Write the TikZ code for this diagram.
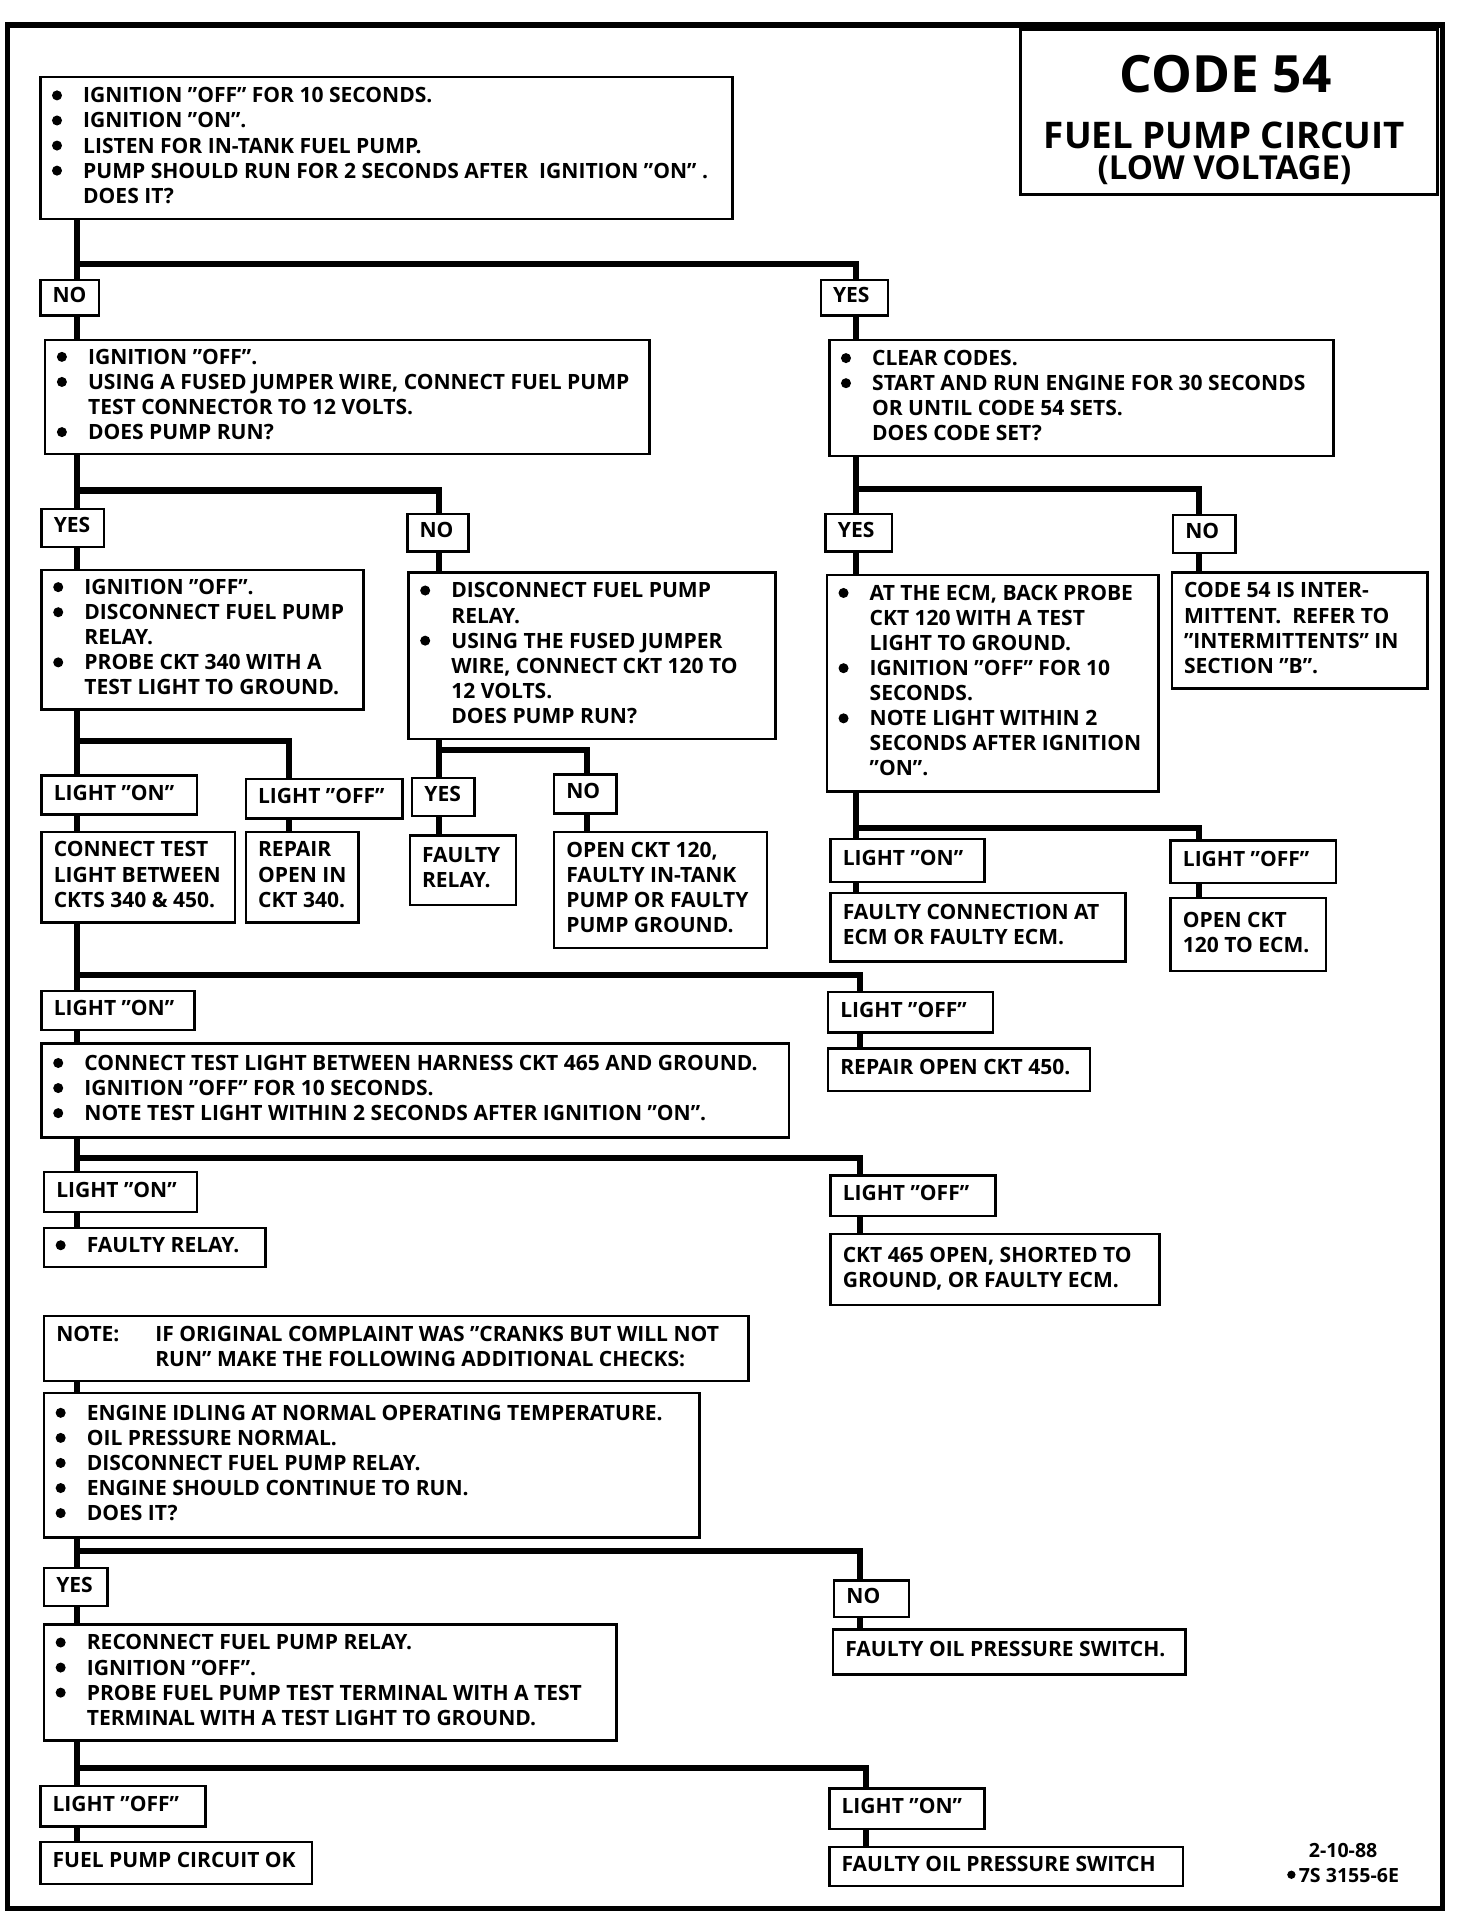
\documentclass[tikz,border=0pt]{standalone}
\usepackage{fontspec}
\setmainfont{Open Sans}
\newcommand\dotmark[1]{\tikz[baseline=0pt]\fill (#1,6.1pt) circle (#1);}
\newcommand\bul{\makebox[25pt][l]{\hspace*{-0.5pt}\dotmark{4.1pt}}}
\newcommand\indt{\hspace*{25pt}}
\def\mbpad{10}
\newcommand\mkbox[6]{%
  \pgfmathsetmacro\mbW{#4-#2}%
  \pgfmathsetmacro\mbH{#5-#3}%
  \pgfmathsetmacro\mbT{#4-#2-2*\mbpad}%
  \node[mybox, minimum width=\mbW pt, minimum height=\mbH pt] (#1) at (#2,-#3)
    {\makebox[\mbT pt][l]{\begin{tabular}{@{}l@{}}#6\end{tabular}}};}
\begin{document}
\begin{tikzpicture}[x=1pt,y=1pt,
  mybox/.style={draw, line width=2pt, anchor=north west, inner xsep=\mbpad pt, inner ysep=0pt,
    font=\fontsize{17.2}{20.5}\selectfont\bfseries},
  cnx/.style={line width=5pt}]
\useasboundingbox (0,0) rectangle (1203,-1568);
\node[draw, line width=4.5pt, anchor=north west, minimum width=1173pt, minimum height=1540pt, inner sep=0pt] (frame) at (4,-18) {};
% title
\node[draw, line width=2.2pt, anchor=north west, minimum width=341pt, minimum height=135pt, inner sep=0pt] (title) at (833,-23) {};
\node[font=\fontsize{42}{42}\selectfont\bfseries] (t1) at (1002,-61) {CODE 54};
\node[font=\fontsize{30}{30}\selectfont\bfseries] (t2) at (1001,-111) {FUEL PUMP CIRCUIT};
\node[font=\fontsize{27}{27}\selectfont\bfseries] (t3) at (1001,-139) {(LOW VOLTAGE)};
% boxes
\mkbox{b1}{32}{62}{598}{178}{\bul IGNITION "OFF" FOR 10 SECONDS.\\ \bul IGNITION "ON".\\ \bul LISTEN FOR IN-TANK FUEL PUMP.\\ \bul PUMP SHOULD RUN FOR 2 SECONDS AFTER \ IGNITION "ON" .\\ \indt DOES IT?}
\mkbox{no1}{32}{228}{80}{257}{NO}
\mkbox{yes1}{670}{228}{725}{257}{YES}
\mkbox{b2}{36}{277}{530}{370}{\bul IGNITION "OFF".\\ \bul USING A FUSED JUMPER WIRE, CONNECT FUEL PUMP\\ \indt TEST CONNECTOR TO 12 VOLTS.\\ \bul DOES PUMP RUN?}
\mkbox{b3}{677}{277}{1089}{372}{\bul CLEAR CODES.\\ \bul START AND RUN ENGINE FOR 30 SECONDS\\ \indt OR UNTIL CODE 54 SETS.\\ \indt DOES CODE SET?}
\mkbox{yes2}{33}{415}{84}{446}{YES}
\mkbox{no2}{332}{419}{382}{450}{NO}
\mkbox{yes3}{674}{419}{728}{450}{YES}
\mkbox{no3}{958}{420}{1009}{451}{NO}
\mkbox{b4}{33}{465}{296}{579}{\bul IGNITION "OFF".\\ \bul DISCONNECT FUEL PUMP\\ \indt RELAY.\\ \bul PROBE CKT 340 WITH A\\ \indt TEST LIGHT TO GROUND.}
\mkbox{b5}{333}{467}{633}{603}{\bul DISCONNECT FUEL PUMP\\ \indt RELAY.\\ \bul USING THE FUSED JUMPER\\ \indt WIRE, CONNECT CKT 120 TO\\ \indt 12 VOLTS.\\ \indt DOES PUMP RUN?}
\mkbox{b6}{675}{469}{946}{646}{\bul AT THE ECM, BACK PROBE\\ \indt CKT 120 WITH A TEST\\ \indt LIGHT TO GROUND.\\ \bul IGNITION "OFF" FOR 10\\ \indt SECONDS.\\ \bul NOTE LIGHT WITHIN 2\\ \indt SECONDS AFTER IGNITION\\ \indt "ON".}
\mkbox{b7}{957}{467}{1166}{562}{CODE 54 IS INTER-\\ MITTENT. \ REFER TO\\ "INTERMITTENTS" IN\\ SECTION "B".}
\mkbox{lon1}{33}{633}{160}{665}{LIGHT "ON"}
\mkbox{loff1}{200}{636}{328}{668}{LIGHT "OFF"}
\mkbox{yes4}{336}{635}{387}{666}{YES}
\mkbox{no4}{452}{632}{503}{664}{NO}
\mkbox{r1}{33}{679}{191}{753}{CONNECT TEST\\ LIGHT BETWEEN\\ CKTS 340 \& 450.}
\mkbox{r2}{200}{679}{292}{753}{REPAIR\\ OPEN IN\\ CKT 340.}
\mkbox{r3}{334}{682}{421}{739}{FAULTY\\ RELAY.}
\mkbox{r4}{452}{679}{626}{774}{OPEN CKT 120,\\ FAULTY IN-TANK\\ PUMP OR FAULTY\\ PUMP GROUND.}
\mkbox{lon2}{678}{685}{804}{720}{LIGHT "ON"}
\mkbox{loff2}{956}{686}{1091}{721}{LIGHT "OFF"}
\mkbox{r5}{678}{729}{919}{785}{FAULTY CONNECTION AT\\ ECM OR FAULTY ECM.}
\mkbox{r6}{956}{733}{1083}{793}{OPEN CKT\\ 120 TO ECM.}
\mkbox{lon3}{33}{809}{158}{841}{LIGHT "ON"}
\mkbox{loff3}{676}{810}{811}{843}{LIGHT "OFF"}
\mkbox{b8}{33}{852}{644}{929}{\bul CONNECT TEST LIGHT BETWEEN HARNESS CKT 465 AND GROUND.\\ \bul IGNITION "OFF" FOR 10 SECONDS.\\ \bul NOTE TEST LIGHT WITHIN 2 SECONDS AFTER IGNITION "ON".}
\mkbox{r7}{676}{856}{890}{891}{REPAIR OPEN CKT 450.}
\mkbox{lon4}{35}{957}{160}{990}{LIGHT "ON"}
\mkbox{loff4}{678}{960}{813}{993}{LIGHT "OFF"}
\mkbox{fr}{35}{1003}{216}{1035}{\bul FAULTY RELAY.}
\mkbox{r8}{678}{1008}{947}{1066}{CKT 465 OPEN, SHORTED TO\\ GROUND, OR FAULTY ECM.}
\mkbox{note}{35}{1075}{611}{1128}{\makebox[81pt][l]{NOTE:}IF ORIGINAL COMPLAINT WAS "CRANKS BUT WILL NOT\\ \hspace*{81pt}RUN" MAKE THE FOLLOWING ADDITIONAL CHECKS:}
\mkbox{b9}{35}{1138}{571}{1256}{\bul ENGINE IDLING AT NORMAL OPERATING TEMPERATURE.\\ \bul OIL PRESSURE NORMAL.\\ \bul DISCONNECT FUEL PUMP RELAY.\\ \bul ENGINE SHOULD CONTINUE TO RUN.\\ \bul DOES IT?}
\mkbox{yes5}{35}{1281}{87}{1312}{YES}
\mkbox{no5}{681}{1291}{742}{1321}{NO}
\mkbox{b10}{35}{1327}{503}{1422}{\bul RECONNECT FUEL PUMP RELAY.\\ \bul IGNITION "OFF".\\ \bul PROBE FUEL PUMP TEST TERMINAL WITH A TEST\\ \indt TERMINAL WITH A TEST LIGHT TO GROUND.}
\mkbox{r10}{680}{1331}{968}{1368}{FAULTY OIL PRESSURE SWITCH.}
\mkbox{loff5}{32}{1459}{167}{1492}{LIGHT "OFF"}
\mkbox{lon5}{677}{1461}{804}{1494}{LIGHT "ON"}
\mkbox{r9}{32}{1505}{254}{1539}{FUEL PUMP CIRCUIT OK}
\mkbox{r11}{677}{1509}{966}{1541}{FAULTY OIL PRESSURE SWITCH}
\node[font=\fontsize{16}{20}\selectfont\bfseries, align=center] (foot) at (1098,-1523) {2-10-88\\\dotmark{3.4pt}\,7S 3155-6E};
% columns and levels
\coordinate (cL) at (63,0);
\coordinate (cA) at (236,0);
\coordinate (cB) at (359,0);
\coordinate (cC) at (480,0);
\coordinate (cD) at (700,0);
\coordinate (cE) at (980,0);
\coordinate (cF) at (703,0);
\coordinate (cG) at (708,0);
\coordinate (h1) at (0,-216);
\coordinate (h2) at (0,-401);
\coordinate (h3) at (0,-400);
\coordinate (h4) at (0,-606);
\coordinate (h5) at (0,-613);
\coordinate (h6) at (0,-677);
\coordinate (h7) at (0,-797);
\coordinate (h8) at (0,-947);
\coordinate (h9) at (0,-1268);
\coordinate (h10) at (0,-1445);
% connectors
\draw[cnx] (b1.south -| cL) -- (no1.north -| cL);
\draw[cnx] (cL |- h1) -| (yes1.north -| cD);
\draw[cnx] (no1.south -| cL) -- (b2.north -| cL);
\draw[cnx] (yes1.south -| cD) -- (b3.north -| cD);
\draw[cnx] (b2.south -| cL) -- (yes2.north -| cL);
\draw[cnx] (cL |- h2) -| (no2.north -| cB);
\draw[cnx] (yes2.south -| cL) -- (b4.north -| cL);
\draw[cnx] (no2.south -| cB) -- (b5.north -| cB);
\draw[cnx] (b3.south -| cD) -- (yes3.north -| cD);
\draw[cnx] (cD |- h3) -| (no3.north -| cE);
\draw[cnx] (yes3.south -| cD) -- (b6.north -| cD);
\draw[cnx] (no3.south -| cE) -- (b7.north -| cE);
\draw[cnx] (b4.south -| cL) -- (lon1.north -| cL);
\draw[cnx] (cL |- h4) -| (loff1.north -| cA);
\draw[cnx] (lon1.south -| cL) -- (r1.north -| cL);
\draw[cnx] (loff1.south -| cA) -- (r2.north -| cA);
\draw[cnx] (b5.south -| cB) -- (yes4.north -| cB);
\draw[cnx] (cB |- h5) -| (no4.north -| cC);
\draw[cnx] (yes4.south -| cB) -- (r3.north -| cB);
\draw[cnx] (no4.south -| cC) -- (r4.north -| cC);
\draw[cnx] (b6.south -| cD) -- (lon2.north -| cD);
\draw[cnx] (cD |- h6) -| (loff2.north -| cE);
\draw[cnx] (lon2.south -| cD) -- (r5.north -| cD);
\draw[cnx] (loff2.south -| cE) -- (r6.north -| cE);
\draw[cnx] (r1.south -| cL) -- (lon3.north -| cL);
\draw[cnx] (cL |- h7) -| (loff3.north -| cF);
\draw[cnx] (lon3.south -| cL) -- (b8.north -| cL);
\draw[cnx] (loff3.south -| cF) -- (r7.north -| cF);
\draw[cnx] (b8.south -| cL) -- (lon4.north -| cL);
\draw[cnx] (cL |- h8) -| (loff4.north -| cF);
\draw[cnx] (lon4.south -| cL) -- (fr.north -| cL);
\draw[cnx] (loff4.south -| cF) -- (r8.north -| cF);
\draw[cnx] (note.south -| cL) -- (b9.north -| cL);
\draw[cnx] (b9.south -| cL) -- (yes5.north -| cL);
\draw[cnx] (cL |- h9) -| (no5.north -| cF);
\draw[cnx] (yes5.south -| cL) -- (b10.north -| cL);
\draw[cnx] (no5.south -| cF) -- (r10.north -| cF);
\draw[cnx] (b10.south -| cL) -- (loff5.north -| cL);
\draw[cnx] (cL |- h10) -| (lon5.north -| cG);
\draw[cnx] (loff5.south -| cL) -- (r9.north -| cL);
\draw[cnx] (lon5.south -| cG) -- (r11.north -| cG);
\end{tikzpicture}
\end{document}
